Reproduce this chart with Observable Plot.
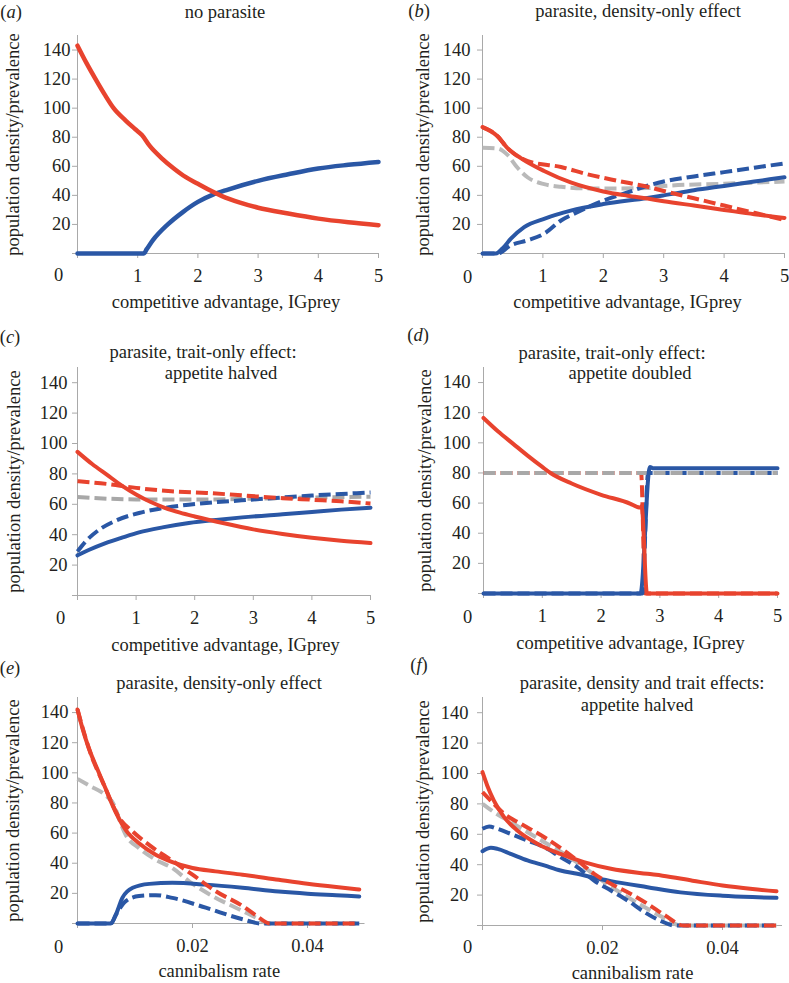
<!DOCTYPE html>
<html><head><meta charset="utf-8">
<script src="https://cdn.jsdelivr.net/npm/d3@7"></script>
<script src="https://cdn.jsdelivr.net/npm/@observablehq/plot@0.6"></script>
<style>
body{margin:0;background:#fff;}
#fig{position:relative;width:789px;height:983px;overflow:hidden;font-family:"Liberation Serif","Times New Roman",serif;color:#231f20;}
#fig svg{position:absolute;}
.t{position:absolute;white-space:nowrap;font-size:18.5px;line-height:1;transform:translate(-50%,-50%);}
.l{position:absolute;white-space:nowrap;font-size:18.5px;line-height:1;transform:translate(-50%,-50%);}
</style></head><body><div id="fig"></div><script>
// ---------- tick values & labels ----------
const yTicks = [0, 20, 40, 60, 80, 100, 120, 140];
const xTicksIG = [0, 1, 2, 3, 4, 5];
const xTicksCan = [0, 0.02, 0.04];
const yLabel = "population density/prevalence";
const xLabelIG = "competitive advantage, IGprey";
const xLabelCan = "cannibalism rate";
const letters = ["a", "b", "c", "d", "e", "f"];
const titles = [
  ["no parasite"],
  ["parasite, density-only effect"],
  ["parasite, trait-only effect:", "appetite halved"],
  ["parasite, trait-only effect:", "appetite doubled"],
  ["parasite, density-only effect"],
  ["parasite, density and trait effects:", "appetite halved"]
];

// ---------- (a) no parasite ----------
const aRedX = [0, 0.15, 0.3, 0.45, 0.6, 0.8, 0.96, 1.07, 1.2, 1.4, 1.6, 1.8, 2, 2.2, 2.4, 2.7, 3, 3.5, 4, 4.5, 5];
const aRedY = [143, 131, 120, 109.5, 100, 91.5, 85.5, 81.5, 74, 65.5, 58.5, 52.5, 48, 43.5, 39.5, 35, 31.5, 27.5, 24, 21.5, 19.5];
const aBlueX = [0, 1.1, 1.15, 1.25, 1.5, 1.75, 2, 2.25, 2.5, 3, 3.5, 4, 4.5, 5];
const aBlueY = [0, 0, 3, 9, 20, 28.5, 35.5, 40.5, 44, 50, 54.5, 58.5, 61, 63];

// ---------- (b) density-only ----------
const bRedX = [0, 0.25, 0.41, 0.64, 1.02, 1.46, 2, 2.4, 2.73, 3, 3.5, 4, 4.5, 5];
const bRedY = [87, 80.7, 72.7, 65.5, 56.8, 48.9, 42.7, 39.8, 37.8, 36, 33, 30, 27, 24.5];
const bRedDashX = [0, 0.25, 0.41, 0.75, 1.3, 1.74, 2.24, 2.73, 3, 3.5, 4, 4.5, 5];
const bRedDashY = [87, 80.7, 72.7, 63.6, 59.5, 54.5, 50, 45.9, 43, 38, 33, 28, 23];
const bGrayX = [0, 0.25, 0.41, 0.58, 0.75, 1.02, 1.3, 1.74, 2.24, 2.73, 3, 4, 5];
const bGrayY = [72.7, 72.3, 68, 59, 52.3, 47.7, 45.9, 44.8, 44.8, 45, 46.5, 48, 49.5];
const bBlueX = [0, 0.22, 0.33, 0.47, 0.69, 1.02, 1.46, 2, 2.73, 3, 3.5, 4, 4.5, 5];
const bBlueY = [0, 0, 3.4, 10.2, 18.2, 23.9, 29.5, 34, 38.2, 40, 43.5, 46.5, 49.5, 52.5];
const bBlueDashX = [0, 0.25, 0.47, 0.75, 1.02, 1.3, 1.57, 2, 2.4, 2.73, 3, 3.5, 4, 4.5, 5];
const bBlueDashY = [0, 0, 5.7, 9.1, 13.6, 22.7, 28.4, 36.4, 42, 46.6, 49.5, 53, 56, 59, 62];

// ---------- (c) trait-only, appetite halved ----------
const cRedX = [0, 0.25, 0.5, 0.75, 1, 1.25, 1.5, 1.75, 2, 2.5, 3, 3.5, 4, 4.5, 5];
const cRedY = [94.5, 86.5, 79.5, 72.5, 66.5, 61.5, 57.5, 54.5, 52, 47.5, 43.5, 40.5, 38, 36, 34.5];
const cRedDashX = [0, 0.5, 1, 1.6, 2.2, 2.8, 3.5, 4, 4.5, 5];
const cRedDashY = [75.2, 73.4, 70.8, 68.6, 67.5, 65.9, 64, 63, 62, 60.5];
const cGrayX = [0, 0.5, 1, 2, 3, 4, 5];
const cGrayY = [64.8, 63.7, 63.2, 63.1, 63.7, 64.5, 65];
const cBlueDashX = [0, 0.14, 0.37, 0.65, 1.05, 1.4, 1.8, 2.2, 2.8, 3.5, 4, 4.5, 5];
const cBlueDashY = [29, 35.6, 43.3, 49.2, 54.3, 57.1, 59.3, 60.9, 62.6, 64.5, 65.8, 66.8, 67.8];
const cBlueX = [0, 0.2, 0.48, 0.77, 1.05, 1.45, 1.9, 2.41, 2.81, 3.5, 4, 4.5, 5];
const cBlueY = [26.4, 30.1, 34.5, 38.2, 41.5, 44.8, 47.7, 49.9, 51.4, 53.5, 55, 56.5, 57.8];

// ---------- (d) trait-only, appetite doubled ----------
const dRedX = [0, 0.25, 0.5, 0.75, 1, 1.14, 1.5, 2, 2.5, 2.61, 2.67, 2.69, 2.78, 5];
const dRedY = [116.5, 107.5, 99.5, 91.5, 84, 80, 73, 65.5, 59.5, 57.5, 57, 58, 0, 0];
const dRedDashX = [0, 2.68, 2.75, 5];
const dRedDashY = [80, 80, 0, 0];
const dBlueDashX = [0, 2.7, 2.8, 5];
const dBlueDashY = [0, 0, 80, 80];
const dBlueX = [0, 2.67, 2.83, 2.88, 5];
const dBlueY = [0, 0, 84, 83.2, 83.2];
const dGrayX = [0, 5];
const dGrayY = [80, 80];

// ---------- (e) cannibalism, density-only ----------
const eRedX = [0, 0.0009, 0.002, 0.0035, 0.0049, 0.0061, 0.0072, 0.0084, 0.0107, 0.0136, 0.0165, 0.02, 0.024, 0.0287, 0.035, 0.04, 0.045, 0.049];
const eRedY = [142, 129, 116, 102, 89.4, 78.4, 69.7, 62, 53.2, 45.6, 40.7, 36.8, 34.6, 32.4, 29, 26.4, 24.2, 22.6];
const eRedDashX = [0, 0.002, 0.0049, 0.0072, 0.0096, 0.0125, 0.0165, 0.02, 0.024, 0.0287, 0.031, 0.0335, 0.049];
const eRedDashY = [142, 116, 89.4, 70.5, 61, 52, 41.6, 32.4, 21.5, 11.6, 5.5, 0, 0];
const eGrayX = [0, 0.002, 0.0049, 0.0064, 0.0072, 0.0084, 0.0107, 0.0136, 0.0165, 0.0194, 0.0235, 0.0287, 0.0315, 0.033, 0.049];
const eGrayY = [96, 91.6, 85, 78.4, 69.7, 58.7, 50, 42.3, 36.8, 28, 18.2, 8.3, 3, 0, 0];
const eBlueX = [0, 0.0058, 0.0067, 0.0078, 0.0096, 0.0125, 0.0165, 0.0223, 0.0287, 0.035, 0.04, 0.045, 0.049];
const eBlueY = [0, 0, 6.1, 17, 23.7, 26.3, 27, 25.8, 23.7, 21.2, 19.8, 18.8, 18];
const eBlueDashX = [0, 0.0058, 0.0067, 0.0084, 0.0107, 0.0136, 0.0165, 0.0223, 0.0287, 0.032, 0.049];
const eBlueDashY = [0, 0, 6, 14.9, 18.2, 18.8, 17, 10.5, 2.8, 0, 0];

// ---------- (f) cannibalism, density and trait ----------
const fRedX = [0, 0.0008, 0.0019, 0.0036, 0.0058, 0.0092, 0.013, 0.0169, 0.0214, 0.0275, 0.03, 0.035, 0.04, 0.045, 0.049];
const fRedY = [100.9, 92, 82.2, 71.3, 62.5, 53.7, 47.1, 41.7, 37.3, 34, 32.8, 29.5, 26.3, 24, 22.5];
const fRedDashX = [0, 0.0019, 0.0036, 0.0064, 0.0103, 0.0136, 0.0158, 0.0186, 0.0214, 0.0242, 0.0275, 0.0305, 0.0335, 0.049];
const fRedDashY = [87.7, 80, 73.5, 66.9, 58.1, 49.3, 42.8, 34, 27.4, 21.9, 14.3, 6.5, 0, 0];
const fGrayX = [0, 0.0019, 0.0047, 0.0075, 0.0103, 0.0136, 0.0169, 0.0203, 0.0242, 0.0275, 0.0305, 0.033, 0.049];
const fGrayY = [80, 74.6, 68, 61.4, 54.8, 47.1, 38.4, 28.5, 18.6, 11, 4.5, 0, 0];
const fBlueDashX = [0, 0.0011, 0.0025, 0.0047, 0.0075, 0.0103, 0.013, 0.0158, 0.0186, 0.0214, 0.0242, 0.027, 0.03, 0.032, 0.049];
const fBlueDashY = [63.6, 65.1, 63.6, 60.3, 55.9, 51.5, 45, 38.4, 29.6, 23, 16.4, 8.8, 2.5, 0, 0];
const fBlueX = [0, 0.0014, 0.0025, 0.0047, 0.0075, 0.0103, 0.013, 0.0158, 0.0186, 0.0214, 0.0275, 0.033, 0.04, 0.045, 0.049];
const fBlueY = [48.9, 51.1, 50.4, 47.1, 42.8, 39.5, 36.2, 34, 31.4, 29.2, 25.2, 21.8, 19.6, 18.7, 18.2];

// ---------- styling ----------
const RED = "#e8432e", BLUE = "#2a57a5", GRAY = "#b9b9b9", GRAY2 = "#a8a8a8";
const AXIS = "#a9a9a9", TEXT = "#231f20";
const DASH = "12,5";
const FS = 18.5;
const FONT = '"Liberation Serif", "Times New Roman", serif';

const zip = (xs, ys) => xs.map((x, i) => ({x, y: ys[i]}));
const S = (x, y, color, dashed, w) => ({data: zip(x, y), color, dashed, w});

const panels = [
  {box: [0, 0, 395, 320, 77, 17, 35, 67], xd: [0, 5], xt: xTicksIG, xl: xLabelIG, yPad: 2, z: [-19, 22], ydx: -64, xdx: -2, xdy: 49,
   series: [S(aBlueX, aBlueY, BLUE, false, 4.5), S(aRedX, aRedY, RED, false, 4.5)]},
  {box: [395, 0, 394, 320, 87, 5, 35, 67], xd: [0, 5], xt: xTicksIG, xl: xLabelIG, yPad: 7, z: [-15, 24], ydx: -59, xdx: -6, xdy: 49,
   series: [S(bGrayX, bGrayY, GRAY, true, 4), S(bBlueX, bBlueY, BLUE, false, 4), S(bBlueDashX, bBlueDashY, BLUE, true, 4),
            S(bRedX, bRedY, RED, false, 4), S(bRedDashX, bRedDashY, RED, true, 4)]},
  {box: [0, 320, 395, 340, 77, 25, 47, 65], xd: [0, 5], xt: xTicksIG, xl: xLabelIG, yPad: 5, z: [-17, 23], ydx: -63.5, xdx: 1.5, xdy: 50,
   series: [S(cGrayX, cGrayY, GRAY2, true, 4), S(cBlueX, cBlueY, BLUE, false, 4), S(cBlueDashX, cBlueDashY, BLUE, true, 4),
            S(cRedX, cRedY, RED, false, 4), S(cRedDashX, cRedDashY, RED, true, 4)]},
  {box: [395, 320, 394, 340, 88, 12, 47, 67], xd: [0, 5], xt: xTicksIG, xl: xLabelIG, yPad: 8, z: [-16, 24], ydx: -58.5, xdx: 0, xdy: 50,
   series: [S(dRedDashX, dRedDashY, RED, true, 4), S(dBlueDashX, dBlueDashY, BLUE, true, 4), S(dGrayX, dGrayY, GRAY2, true, 4),
            S(dBlueX, dBlueY, BLUE, false, 4), S(dRedX, dRedY, RED, false, 4)]},
  {box: [0, 650, 395, 333, 77, 30.5, 47, 60], xd: [0, 0.05], xt: xTicksCan, xl: xLabelCan, yPad: 4, z: [-19, 24], ydx: -64, xdx: -2, xdy: 48,
   series: [S(eGrayX, eGrayY, GRAY, true, 4), S(eBlueX, eBlueY, BLUE, false, 4), S(eBlueDashX, eBlueDashY, BLUE, true, 4),
            S(eRedX, eRedY, RED, false, 4), S(eRedDashX, eRedDashY, RED, true, 4)]},
  {box: [395, 650, 394, 333, 87, 7, 47, 58], xd: [0, 0.05], xt: xTicksCan, xl: xLabelCan, yPad: 9, z: [-15, 22], ydx: -59, xdx: 0, xdy: 48,
   series: [S(fGrayX, fGrayY, GRAY, true, 4), S(fBlueX, fBlueY, BLUE, false, 4), S(fBlueDashX, fBlueDashY, BLUE, true, 4),
            S(fRedX, fRedY, RED, false, 4), S(fRedDashX, fRedDashY, RED, true, 4)]}
];

// HTML positions for panel letters and titles (centre points)
const letterPos = [[11, 12], [419, 11], [10, 337], [418, 335], [10, 668], [419, 665]];
const titlePos = [
  [[225, 12]],
  [[638, 11]],
  [[203, 352], [221, 373]],
  [[612, 353], [630, 373]],
  [[219, 683]],
  [[642, 683], [637, 705]]
];

const fig = document.getElementById("fig");
panels.forEach((p, i) => {
  const [left, top, width, height, mL, mR, mT, mB] = p.box;
  const svg = Plot.plot({
    width, height, marginLeft: mL, marginRight: mR, marginTop: mT, marginBottom: mB,
    x: {domain: p.xd}, y: {domain: [0, 150]},
    style: {fontFamily: FONT, fontSize: FS + "px", background: "transparent", color: TEXT, overflow: "visible"},
    marks: [
      Plot.ruleX([0], {stroke: AXIS, strokeWidth: 1}),
      Plot.ruleY([0], {stroke: AXIS, strokeWidth: 1}),
      Plot.axisY({ticks: yTicks, tickSize: 5, tickPadding: p.yPad, tickFormat: d => d === 0 ? "" : String(d), label: null, stroke: AXIS, fill: TEXT, fontSize: FS}),
      Plot.axisX({ticks: p.xt, tickSize: 5, tickPadding: 10, tickFormat: d => d === 0 ? "" : String(d), label: null, stroke: AXIS, fill: TEXT, fontSize: FS}),
      Plot.text(["0"], {text: d => d, frameAnchor: "bottom-left", textAnchor: "middle", lineAnchor: "middle", dx: p.z[0], dy: p.z[1], fill: TEXT, fontSize: FS}),
      Plot.text([yLabel], {text: d => d, frameAnchor: "left", textAnchor: "middle", lineAnchor: "middle", rotate: -90, dx: p.ydx, fill: TEXT, fontSize: FS}),
      Plot.text([p.xl], {text: d => d, frameAnchor: "bottom", textAnchor: "middle", lineAnchor: "middle", dx: p.xdx, dy: p.xdy, fill: TEXT, fontSize: FS}),
      ...p.series.map(s => Plot.line(s.data, {
        x: "x", y: "y", stroke: s.color, strokeWidth: s.w, curve: "monotone-x",
        strokeDasharray: s.dashed ? DASH : null, strokeLinecap: s.dashed ? "butt" : "round", strokeLinejoin: "round"
      }))
    ]
  });
  svg.style.left = left + "px";
  svg.style.top = top + "px";
  fig.appendChild(svg);

  const L = document.createElement("div");
  L.className = "l";
  L.style.left = letterPos[i][0] + "px";
  L.style.top = letterPos[i][1] + "px";
  L.innerHTML = "(<i>" + letters[i] + "</i>)";
  fig.appendChild(L);

  titles[i].forEach((line, j) => {
    const T = document.createElement("div");
    T.className = "t";
    T.style.left = titlePos[i][j][0] + "px";
    T.style.top = titlePos[i][j][1] + "px";
    T.textContent = line;
    fig.appendChild(T);
  });
});
</script></body></html>
